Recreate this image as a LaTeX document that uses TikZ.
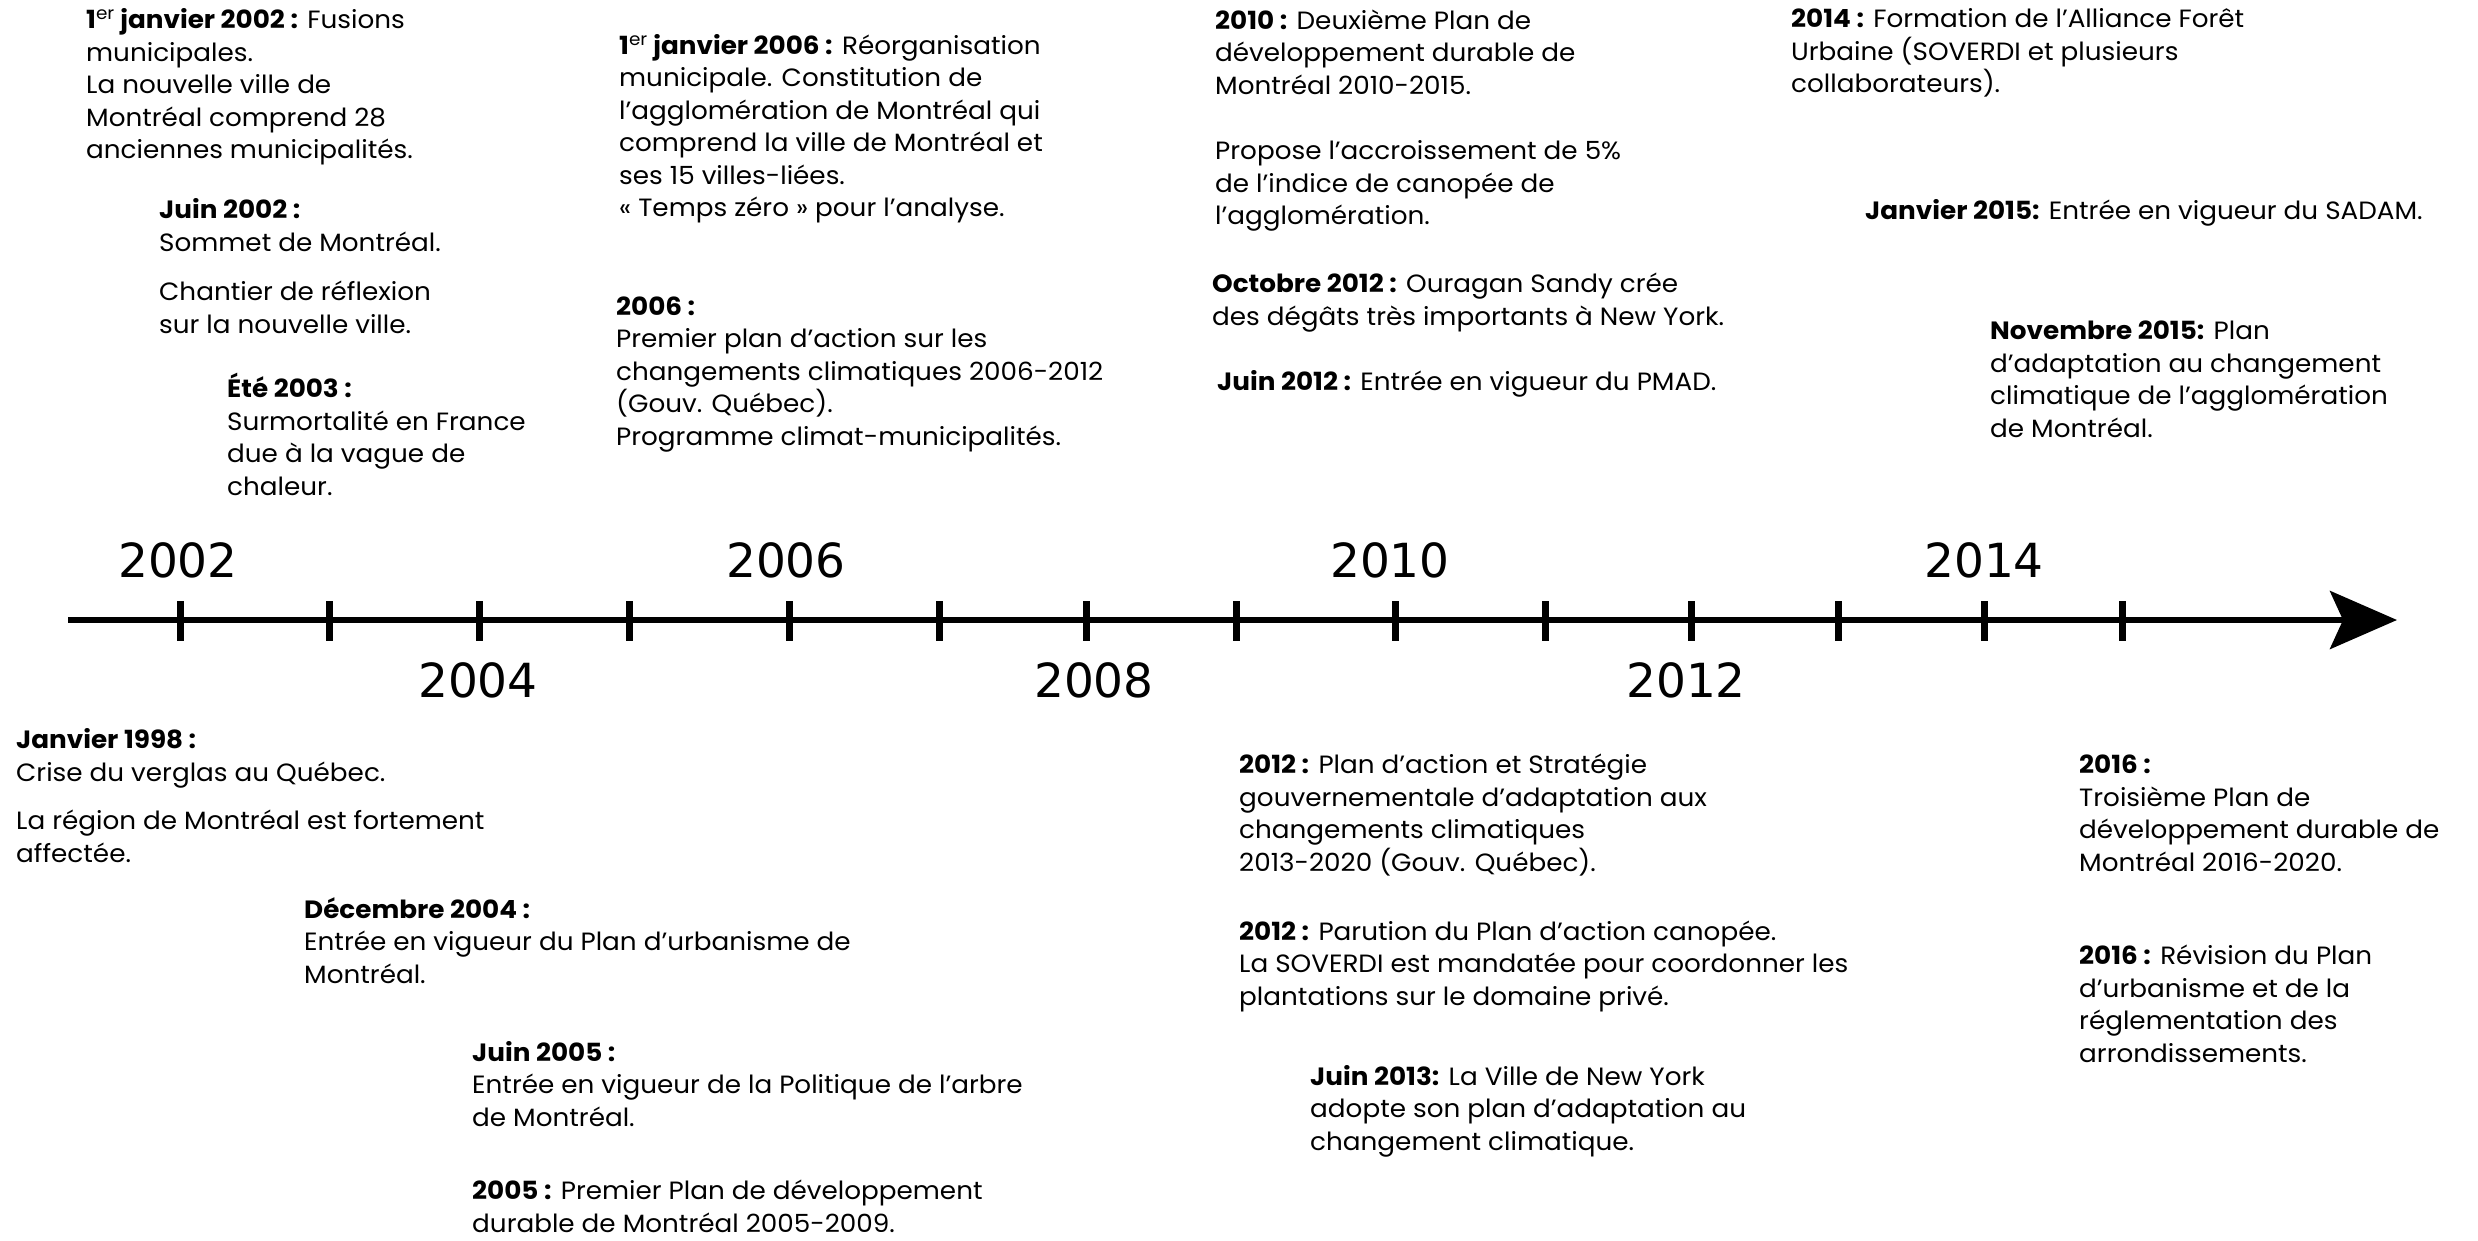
\documentclass[tikz,border=0pt]{standalone}
\usepackage{fontspec}
\setmainfont[FakeStretch=1.05]{Poppins}
\newfontfamily\yearfont{DejaVu Sans}
\usetikzlibrary{arrows.meta}
\tikzset{
  evt/.style={anchor=base west, inner sep=0pt, align=left, font=\fontsize{25}{32.5}\selectfont},
  yrup/.style={anchor=base, inner sep=0pt, font=\yearfont\fontsize{47}{47}\selectfont},
  tickmark/.style={line width=7pt},
  axisline/.style={line width=6pt, -{Stealth[length=67pt,width=58pt,inset=13pt]}}
}
\begin{document}
\begin{tikzpicture}[x=1pt,y=-1pt]
\useasboundingbox (0,0) rectangle (2478,1241);
% axis
\coordinate (axA) at (68,620);
\coordinate (axB) at (2397,620);
\draw[axisline] (axA) -- (axB);
\foreach \t in {180,329,479,629,789,939,1086,1236,1395,1545,1691,1838,1984,2122}
  \draw[tickmark] (\t,601) -- (\t,641);
% year labels
\node[yrup] (y2002) at (178,577) {2002};
\node[yrup] (y2006) at (786,577) {2006};
\node[yrup] (y2010) at (1390,577) {2010};
\node[yrup] (y2014) at (1984,577) {2014};
\node[yrup] (y2004) at (478,697) {2004};
\node[yrup] (y2008) at (1094,697) {2008};
\node[yrup] (y2012) at (1686,697) {2012};
% top events (positions = baseline of the last line)
\node[evt] (e1) at (86,159) {\textbf{1\textsuperscript{\mdseries er} janvier 2002~:} Fusions\\municipales.\\La nouvelle ville de\\Montréal comprend 28\\anciennes municipalités.};
\node[evt] (e2) at (159,333) {\textbf{Juin 2002~:}\\Sommet de Montréal.\\[17pt]Chantier de réflexion\\sur la nouvelle ville.};
\node[evt] (e3) at (227,495) {\textbf{Été 2003~:}\\Surmortalité en France\\due à la vague de\\chaleur.};
\node[evt] (e4) at (619,217) {\textbf{1\textsuperscript{\mdseries er} janvier 2006~:} Réorganisation\\municipale. Constitution de\\l’agglomération de Montréal qui\\comprend la ville de Montréal et\\ses 15 villes-liées.\\«~Temps zéro~» pour l’analyse.};
\node[evt] (e5) at (616,445) {\textbf{2006~:}\\Premier plan d’action sur les\\changements climatiques 2006-2012\\(Gouv. Québec).\\Programme climat-municipalités.};
\node[evt] (e6) at (1215,225) {\textbf{2010~:} Deuxième Plan de\\développement durable de\\Montréal 2010-2015.\\[33pt]Propose l’accroissement de 5\%\\de l’indice de canopée de\\l’agglomération.};
\node[evt] (e7) at (1212,325) {\textbf{Octobre 2012~:} Ouragan Sandy crée\\des dégâts très importants à New York.};
\node[evt] (e8) at (1217,390) {\textbf{Juin 2012~:} Entrée en vigueur du PMAD.};
\node[evt] (e9) at (1791,93) {\textbf{2014~:} Formation de l’Alliance Forêt\\Urbaine (SOVERDI et plusieurs\\collaborateurs).};
\node[evt] (e10) at (1865,220) {\textbf{Janvier 2015:} Entrée en vigueur du SADAM.};
\node[evt] (e11) at (1990,437) {\textbf{Novembre 2015:} Plan\\d’adaptation au changement\\climatique de l’agglomération\\de Montréal.};
% bottom events
\node[evt] (e12) at (16,862) {\textbf{Janvier 1998~:}\\Crise du verglas au Québec.\\[16pt]La région de Montréal est fortement\\affectée.};
\node[evt] (e13) at (304,983) {\textbf{Décembre 2004~:}\\Entrée en vigueur du Plan d’urbanisme de\\Montréal.};
\node[evt] (e14) at (472,1126) {\textbf{Juin 2005~:}\\Entrée en vigueur de la Politique de l’arbre\\de Montréal.};
\node[evt] (e15) at (472,1232) {\textbf{2005~:} Premier Plan de développement\\durable de Montréal 2005-2009.};
\node[evt] (e16) at (1239,871) {\textbf{2012~:} Plan d’action et Stratégie\\gouvernementale d’adaptation aux\\changements climatiques\\2013-2020 (Gouv. Québec).};
\node[evt] (e17) at (1239,1005) {\textbf{2012~:} Parution du Plan d’action canopée.\\La SOVERDI est mandatée pour coordonner les\\plantations sur le domaine privé.};
\node[evt] (e18) at (1310,1150) {\textbf{Juin 2013:} La Ville de New York\\adopte son plan d’adaptation au\\changement climatique.};
\node[evt] (e19) at (2079,871) {\textbf{2016~:}\\Troisième Plan de\\développement durable de\\Montréal 2016-2020.};
\node[evt] (e20) at (2079,1062) {\textbf{2016~:} Révision du Plan\\d’urbanisme et de la\\réglementation des\\arrondissements.};
\end{tikzpicture}
\end{document}
